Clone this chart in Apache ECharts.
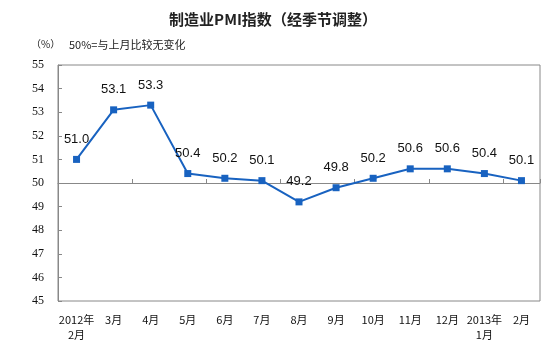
<!DOCTYPE html>
<html>
<head>
<meta charset="utf-8">
<script src="https://cdn.jsdelivr.net/npm/echarts@6/dist/echarts.min.js"></script>
<style>
  html, body { margin: 0; padding: 0; background: #fff; }
  #chart { width: 546px; height: 342px; }
</style>
</head>
<body>
<div id="chart"></div>
<script>
// Manufacturing PMI, seasonally adjusted
const months = ['2012年\n2月', '3月', '4月', '5月', '6月', '7月', '8月', '9月', '10月', '11月', '12月', '2013年\n1月', '2月'];
const pmi = [51.0, 53.1, 53.3, 50.4, 50.2, 50.1, 49.2, 49.8, 50.2, 50.6, 50.6, 50.4, 50.1];
const yMin = 45, yMax = 55, yStep = 1, baseline = 50;

const grid = { left: 58, right: 6, top: 65, bottom: 41 };
const plotHeight = 342 - grid.top - grid.bottom;
// distance from the bottom edge of the grid up to the 50 line
const baselineOffset = -plotHeight * (baseline - yMin) / (yMax - yMin);

const cjk = '"Noto Sans CJK SC", sans-serif';
const serif = '"Liberation Serif", "DejaVu Serif", serif';

const chart = echarts.init(document.getElementById('chart'), null, { renderer: 'canvas' });
chart.setOption({
  animation: false,
  backgroundColor: '#fff',
  title: [
    { text: '制造业PMI指数（经季节调整）', left: 'center', top: 7,
      textStyle: { fontFamily: cjk, fontSize: 15, fontWeight: 'bold', color: '#222' } },
    { text: '（%）', left: 26, top: 34,
      textStyle: { fontFamily: cjk, fontSize: 10, fontWeight: 'normal', color: '#222' } },
    { text: '50%=与上月比较无变化', left: 64, top: 34,
      textStyle: { fontFamily: cjk, fontSize: 11, fontWeight: 'normal', color: '#222' } }
  ],
  grid: Object.assign({ show: true, borderColor: '#888', borderWidth: 1 }, grid),
  xAxis: [
    {
      type: 'category', data: months, boundaryGap: true, position: 'bottom',
      axisLine: { show: false }, axisTick: { show: false },
      axisLabel: { interval: 0, margin: 11, fontFamily: cjk, fontSize: 11, color: '#111', lineHeight: 15 }
    },
    {
      type: 'category', data: months, boundaryGap: true, position: 'bottom',
      offset: baselineOffset,
      axisLine: { show: true, lineStyle: { color: '#888', width: 1 } },
      axisTick: { show: true, inside: true, length: 4, lineStyle: { color: '#888' } },
      axisLabel: { show: false }
    }
  ],
  yAxis: {
    type: 'value', min: yMin, max: yMax, interval: yStep,
    axisLine: { show: true, lineStyle: { color: '#888' } },
    axisTick: { show: true, inside: true, length: 4, lineStyle: { color: '#888' } },
    splitLine: { show: false },
    axisLabel: { margin: 14, fontFamily: serif, fontSize: 12, color: '#111' }
  },
  series: [{
    type: 'line', data: pmi, xAxisIndex: 0,
    symbol: 'rect', symbolSize: 7,
    lineStyle: { color: '#1862C0', width: 2 },
    itemStyle: { color: '#1862C0' },
    label: {
      show: true, position: 'top', distance: 10,
      formatter: p => p.value.toFixed(1),
      fontFamily: '"Liberation Sans", Arial, sans-serif', fontSize: 13, color: '#111'
    }
  }]
});
</script>
</body>
</html>
